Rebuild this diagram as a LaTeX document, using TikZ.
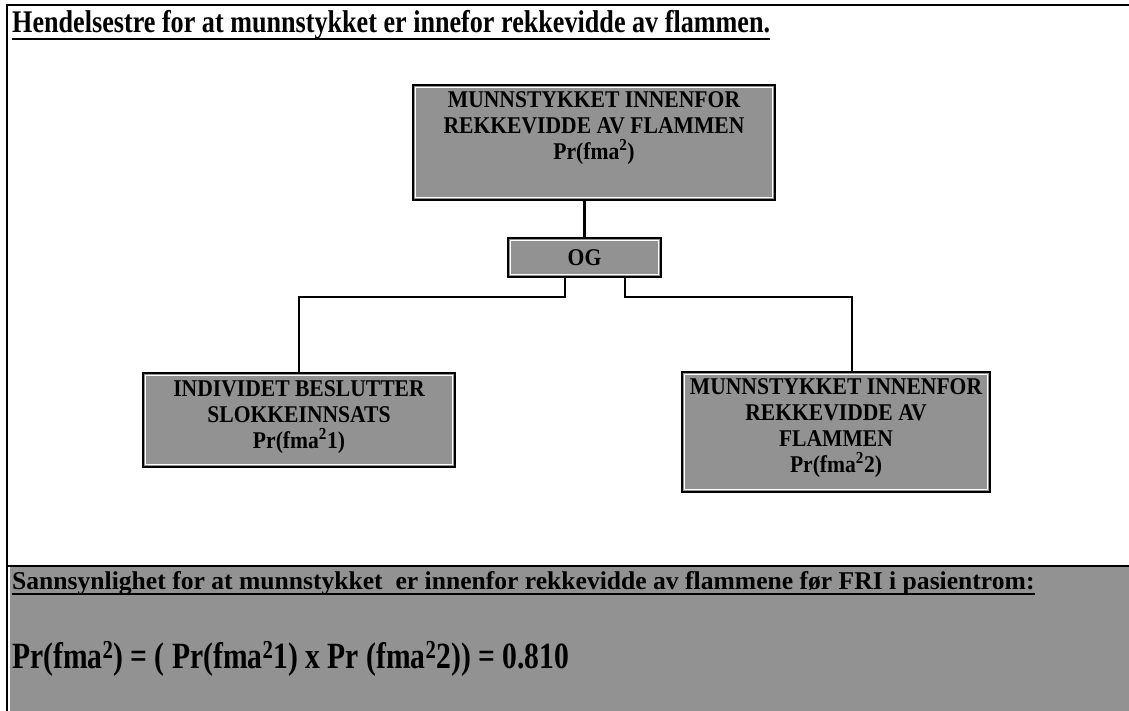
\documentclass[tikz,border=0pt]{standalone}
\usepackage{fontspec}
\setmainfont{Liberation Serif}
\newfontfamily\titlefont[FakeStretch=0.83]{Liberation Serif}
\newfontfamily\boxfont[FakeStretch=0.90]{Liberation Serif}
\newfontfamily\formulafont[FakeStretch=0.80]{Liberation Serif}
\definecolor{panelgray}{RGB}{146,146,146}
% superscript that does not push the line apart
\newcommand{\sqr}{\smash{\textsuperscript{2}}}

\begin{document}
\begin{tikzpicture}[x=1pt,y=-1pt,
  treebox/.style={draw=black, line width=2.4pt, fill=panelgray, inner sep=0pt,
    path picture={\draw[white, line width=1pt]
      ([shift={(2.3pt,-2.3pt)}]path picture bounding box.north west) rectangle
      ([shift={(-2.3pt,2.3pt)}]path picture bounding box.south east);}},
  boxlabel/.style={font=\fontsize{24}{26}\boxfont\bfseries, align=center, inner sep=0pt},
  link/.style={draw=black, line width=2.2pt},
  rule/.style={draw=black, line width=2pt}
]
\useasboundingbox (0,0) rectangle (1129,711);

% outer frame and the shaded result panel
\fill[panelgray] (10,567) rectangle (1129,711);
\draw[rule] (7,5) -- (1129,5);
\draw[rule] (7,4) -- (7,711);
\draw[rule, line width=2.5pt] (7,566) -- (1129,566);

% heading
\node[anchor=base west, inner sep=0pt, font=\fontsize{31.5}{36}\titlefont\bfseries] (title) at (12,33)
  {Hendelsestre for at munnstykket er innefor rekkevidde av flammen.};
\draw[line width=2pt] ([yshift=-6pt]title.base west) -- ([yshift=-6pt]title.base east);

% event boxes
\node[treebox, minimum width=362pt, minimum height=115pt] (top) at (594,142.5) {};
\node[boxlabel] (toptext) at (594,128)
  {MUNNSTYKKET INNENFOR\\REKKEVIDDE AV FLAMMEN\\Pr(fma\sqr)};

\node[treebox, minimum width=153pt, minimum height=39pt] (og) at (584.5,257.5) {};
\node[boxlabel] (ogtext) at (og.center) {OG};

\node[treebox, minimum width=312pt, minimum height=94pt] (left) at (299,420) {};
\node[boxlabel] (lefttext) at (299,417)
  {INDIVIDET BESLUTTER\\SLOKKEINNSATS\\Pr(fma\sqr1)};

\node[treebox, minimum width=308pt, minimum height=120pt] (right) at (836,432) {};
\node[boxlabel] (righttext) at (836,428)
  {MUNNSTYKKET INNENFOR\\REKKEVIDDE AV\\FLAMMEN\\Pr(fma\sqr2)};

% connectors
\coordinate (lsplit) at ([xshift=-19.5pt]og.south);
\coordinate (rsplit) at ([xshift=40.5pt]og.south);
\coordinate (rjoin) at ([xshift=171pt]right.north west);
\draw[link] (top.south -| og.north) -- (og.north);
\draw[link] (lsplit) -- ++(0,19) -| (left.north);
\draw[link] (rsplit) -- ++(0,19) -| (rjoin);

% result
\node[anchor=base west, inner sep=0pt, font=\fontsize{25.6}{30}\selectfont\bfseries] (prob) at (12,589)
  {Sannsynlighet for at munnstykket\ \ er innenfor rekkevidde av flammene før FRI i pasientrom:};
\draw[line width=1.6pt] ([yshift=-5pt]prob.base west) -- ([yshift=-5pt]prob.base east);
\node[anchor=base west, inner sep=0pt, font=\fontsize{37}{40}\formulafont\bfseries] (formula) at (12,668)
  {Pr(fma\textsuperscript{2}) = ( Pr(fma\textsuperscript{2}1) x Pr (fma\textsuperscript{2}2)) = 0.810};
\end{tikzpicture}
\end{document}
